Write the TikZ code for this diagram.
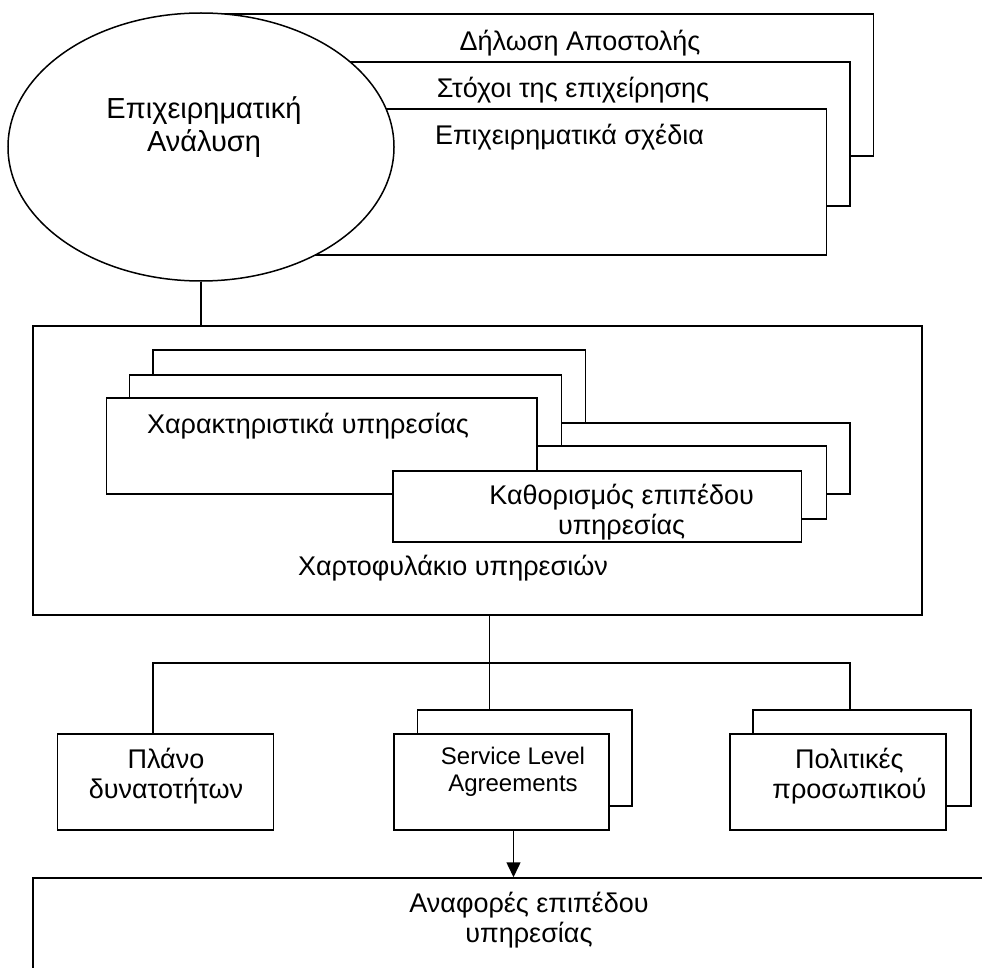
\documentclass[tikz,border=0pt]{standalone}
\usepackage{fontspec}
\setmainfont{Liberation Sans}
\usetikzlibrary{arrows.meta, shapes.geometric}

\begin{document}
\begin{tikzpicture}[x=1pt, y=-1pt, >={Triangle[length=15pt, width=14pt]}, line width=1.5pt,
  font=\fontsize{27}{30}\selectfont,
  doc/.style={draw, fill=white, rectangle, inner sep=0pt},
  lbl/.style={inner sep=0pt, align=center}]
  \useasboundingbox (0,0) rectangle (982,968);
  \clip (0,0) rectangle (982,968);

  % Mission, goals and plans (behind the ellipse)
  \node[doc, minimum width=648.5, minimum height=142] (mission) at (549.25,85) {};
  \node[doc, minimum width=550, minimum height=144] (goals) at (575,134) {};
  \node[doc, minimum width=526.5, minimum height=146] (plans) at (563.25,182) {};
  \node[lbl] (missiontext) at (580,43) {Δήλωση Αποστολής};
  \node[lbl] (goalstext) at (573,90) {Στόχοι της επιχείρησης};
  \node[lbl] (planstext) at (569.5,137) {Επιχειρηματικά σχέδια};

  % Business analysis
  \node[draw, fill=white, ellipse, inner sep=0pt, minimum width=386, minimum height=268] (ana) at (201,147) {};
  \node[lbl, font=\fontsize{29}{33}\selectfont] (anatext) at (204,127) {Επιχειρηματική\\Ανάλυση};

  % Service portfolio
  \node[doc, minimum width=889, minimum height=289] (port) at (477.5,470.5) {};
  \node[doc, minimum width=432.5, minimum height=110] (featc) at (369.25,405) {};
  \node[doc, minimum width=350, minimum height=71] (levelc) at (675,458.5) {};
  \node[doc, minimum width=432, minimum height=105] (featb) at (345.6,427.5) {};
  \node[doc, minimum width=376.5, minimum height=73] (levelb) at (638.25,482.5) {};
  \node[doc, minimum width=430.5, minimum height=96] (feat) at (321.75,446) {};
  \node[doc, minimum width=408.5, minimum height=71] (level) at (597.25,506.5) {};
  \node[lbl] (feattext) at (308,426) {Χαρακτηριστικά υπηρεσίας};
  \node[lbl] (leveltext) at (621.6,512) {Καθορισμός επιπέδου\\υπηρεσίας};
  \node[lbl] (porttext) at (453,568) {Χαρτοφυλάκιο υπηρεσιών};

  \draw (ana.south) -- (ana.south |- port.north);

  % Plans below the portfolio
  \node[doc, minimum width=216, minimum height=96] (plan) at (165.6,782) {};
  \node[doc, minimum width=214.3, minimum height=96] (slab) at (524.85,758) {};
  \node[doc, minimum width=215, minimum height=96] (sla) at (501.5,782) {};
  \node[doc, minimum width=218, minimum height=96] (polb) at (862,758) {};
  \node[doc, minimum width=216, minimum height=96] (pol) at (838,782) {};
  \node[lbl] (plantext) at (166,776) {Πλάνο\\δυνατοτήτων};
  \node[lbl, font=\fontsize{24}{27.5}\selectfont] (slatext) at (513,772) {Service Level\\Agreements};
  \node[lbl] (poltext) at (849.4,776) {Πολιτικές\\προσωπικού};

  \coordinate (bus) at (489.7,663);
  \coordinate (lbus) at (153,663);
  \coordinate (rbus) at (850,663);
  \draw (port.south -| bus) -- (bus);
  \draw (plan.north -| lbus) -- (lbus) -- (rbus) -- (polb.north -| rbus);
  \draw (bus) -- (bus |- slab.north);

  % Reports
  \node[doc, minimum width=1067, minimum height=132] (rep) at (566.5,944) {};
  \node[lbl] (reptext) at (529,920) {Αναφορές επιπέδου\\υπηρεσίας};
  \draw[->] ([xshift=12pt]sla.south) -- ([xshift=12pt]sla.south |- rep.north);
\end{tikzpicture}
\end{document}
